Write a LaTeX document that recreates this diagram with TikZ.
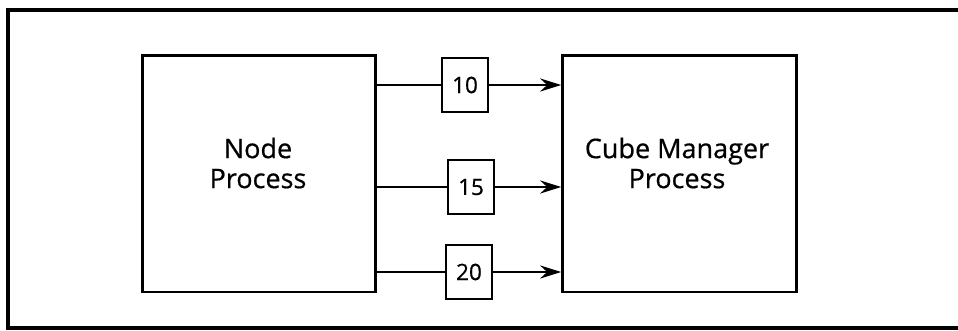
\documentclass[tikz,border=0pt]{standalone}
\usepackage{fontspec}
\setmainfont{Open Sans}[FakeBold=0.6,AutoFakeBold=0.6]
\usetikzlibrary{arrows.meta}
\begin{document}
\begin{tikzpicture}[x=1pt,y=1pt,
  bigbox/.style={draw,line width=2.6pt,minimum width=#1,minimum height=236.5pt,inner sep=0pt},
  tagbox/.style={draw,line width=2.4pt,minimum width=46pt,minimum height=54pt,inner sep=0pt,font=\fontsize{22.5}{26}\selectfont\bfseries},
  label/.style={align=center,font=\fontsize{27}{30}\selectfont\bfseries},
  conn/.style={line width=2.6pt,-{Stealth[length=21pt,width=13pt,inset=7pt]}},
  plain/.style={line width=2.6pt}]
\useasboundingbox (0,0) rectangle (958,330);
% outer frame (right edge cropped)
\draw[line width=4pt] (958,319.5) -- (8.3,319.5) -- (8.3,2.5) -- (958,2.5);
% big boxes
\node[bigbox=233pt] (np) at (259,156.25) {};
\node[bigbox=234pt] (cm) at (679.5,156.25) {};
\node[label] (npt) at (258,167) {Node\\Process};
\node[label] (cmt) at (677,167) {Cube Manager\\Process};
% tag boxes
\node[tagbox] (t10) at (465,245) {10};
\node[tagbox] (t15) at (471,143) {15};
\node[tagbox] (t20) at (469,58) {20};
% connectors
\draw[plain] (np.east |- t10) -- (t10.west);
\draw[conn] (t10.east) -- (cm.west |- t10);
\draw[plain] (np.east |- t15) -- (t15.west);
\draw[conn] (t15.east) -- (cm.west |- t15);
\draw[plain] (np.east |- t20) -- (t20.west);
\draw[conn] (t20.east) -- (cm.west |- t20);
\end{tikzpicture}
\end{document}
